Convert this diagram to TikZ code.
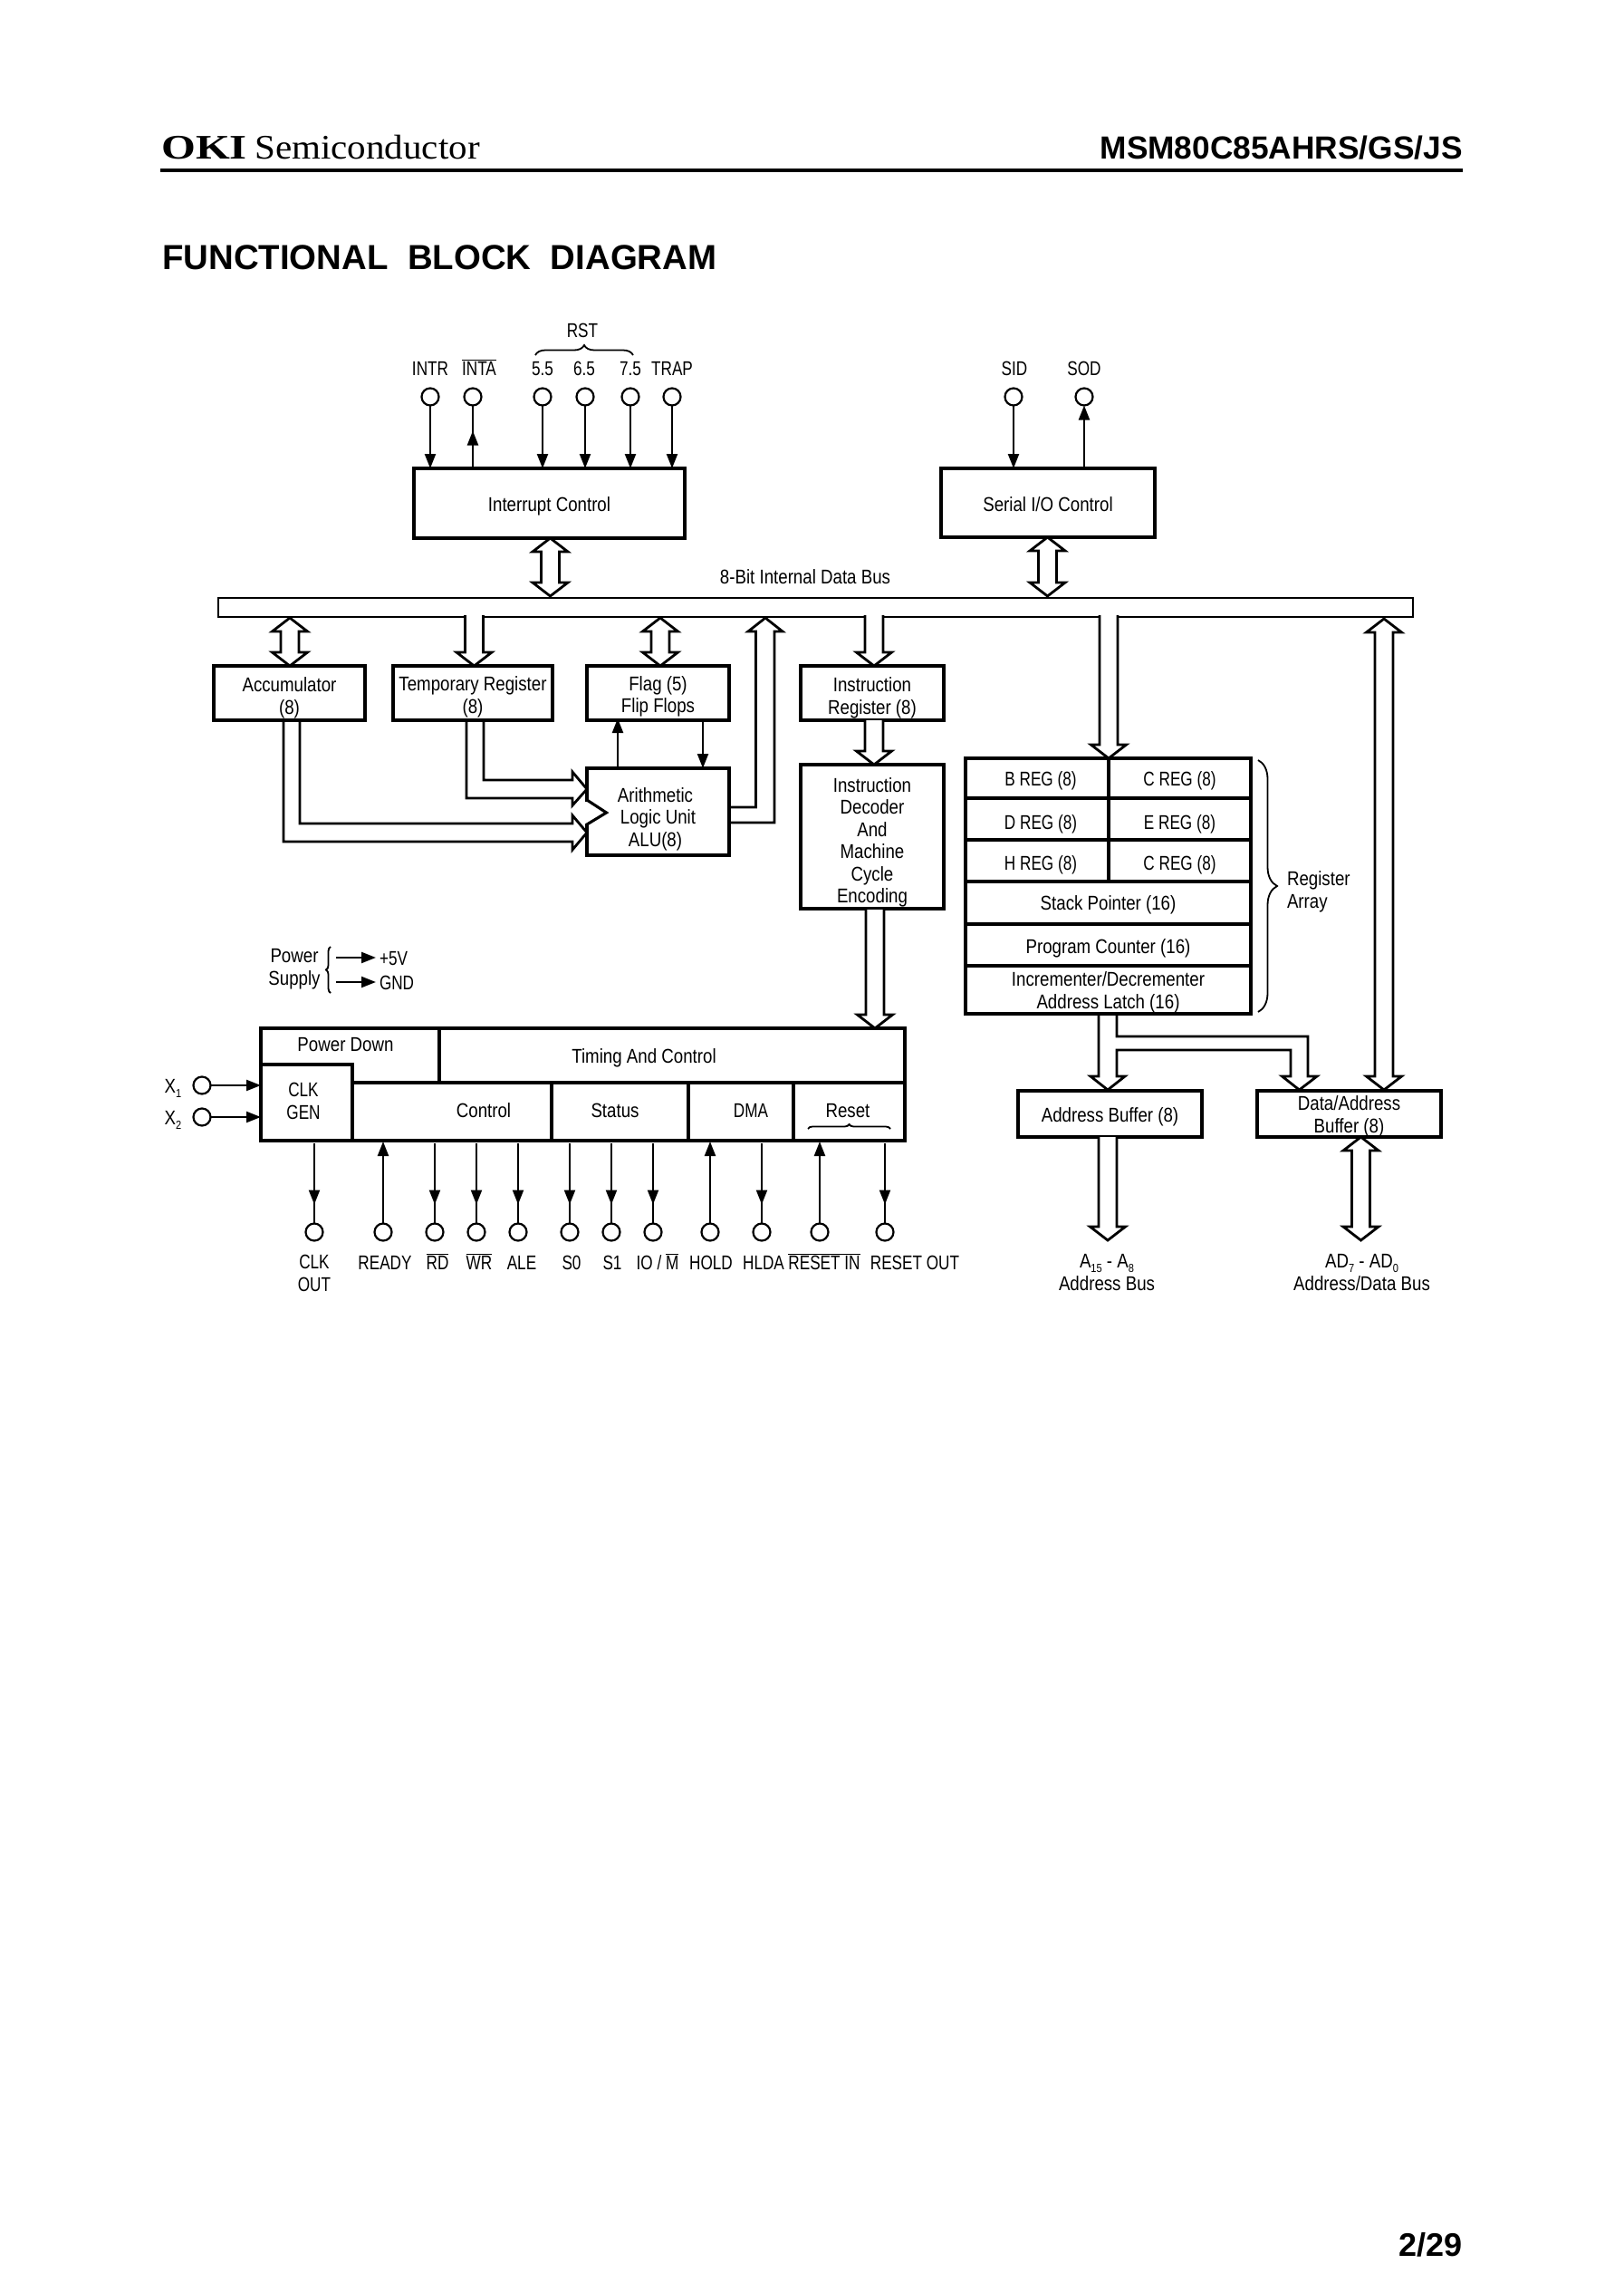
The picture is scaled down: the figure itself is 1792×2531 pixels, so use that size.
\documentclass[tikz,border=0pt]{standalone}
\usepackage{fontspec}
\usetikzlibrary{arrows.meta,calc,decorations.markings,decorations.pathreplacing}

\newfontfamily\chipfont[FakeStretch=0.85]{Liberation Sans}
\newfontfamily\capsfont[FakeStretch=0.78]{Liberation Sans}
\newfontfamily\headfont{Liberation Sans}
\newfontfamily\okifont[FakeStretch=1.28]{Liberation Serif}
\newfontfamily\semifont[FakeStretch=1.08]{Liberation Serif}

\tikzstyle{txt} = [font=\chipfont\fontsize{22}{24.4}\selectfont, inner sep=0pt, outer sep=0pt,
                   text height=16pt, text depth=0pt]
\tikzstyle{narrow} = [font=\capsfont\fontsize{22}{24.4}\selectfont]
\tikzstyle{ctxt} = [txt, narrow]
\tikzstyle{two} = [txt, align=center, text height=40pt]
\tikzstyle{block} = [txt, draw, rectangle, line width=3.1pt, fill=white]
\tikzstyle{term} = [draw, circle, line width=2.2pt, minimum size=19pt, inner sep=0pt, outer sep=0pt]
\tikzstyle{wire} = [line width=2.2pt]
\tikzstyle{sig} = [wire, -{Triangle[length=16pt,width=12pt]}]
\tikzstyle{wide} = [line width=2.8pt, line join=miter]
\tikzstyle{curly} = [line width=1.8pt, decorate]
\tikzset{tipnear/.style={postaction={decorate},
    decoration={markings,mark=at position #1 with {\arrow{Triangle[length=16pt,width=12pt]}}}}}

\def\subs#1{\raisebox{-5pt}{\fontsize{13}{13}\selectfont #1}}
\def\ovl#1{$\overline{\mbox{#1}}$}

% wide bus arrow, open at the top: shaft start, tip
\newcommand{\wideDown}[2]{
  \draw[wide,fill=white]
       ($(#1)+(-10,0)$) -- ($(#2)+(-10,-15)$) -- ++(-9.5,0) -- (#2)
       -- ++(19.5,-15) -- ++(-9.5,0) -- ($(#1)+(10,0)$);
}
% wide bus arrow with two heads: upper tip, lower tip
\newcommand{\wideBoth}[2]{
  \draw[wide,fill=white]
       (#1) -- ++(19.5,15) -- ++(-9.5,0) -- ($(#2)+(10,-15)$) -- ++(9.5,0) -- (#2)
       -- ++(-19.5,-15) -- ++(9.5,0) -- ($(#1)+(-10,15)$) -- ++(-9.5,0) -- cycle;
}

\begin{document}
\begin{tikzpicture}[x=1pt,y=-1pt]

\useasboundingbox (0,0) rectangle (1792,2531);

% page header
\node[inner sep=0pt,anchor=base west,font=\okifont\bfseries\fontsize{38}{38}\selectfont]
     at (178,176) (oki) {OKI};
\node[inner sep=0pt,anchor=base west,font=\semifont\fontsize{38}{38}\selectfont]
     at (281,176) (semi) {Semiconductor};
\node[inner sep=0pt,anchor=base east,font=\headfont\bfseries\fontsize{35.3}{36}\selectfont]
     at (1615,176) (part) {MSM80C85AHRS/GS/JS};
\coordinate (ruleL) at (177,188);
\coordinate (ruleR) at (1615,188);
\draw[line width=3.2pt] (ruleL) -- (ruleR);
\node[inner sep=0pt,anchor=base west,font=\headfont\bfseries\fontsize{38.4}{38}\selectfont]
     at (179,297) (title) {FUNCTIONAL\ \ BLOCK\ \ DIAGRAM};
\node[inner sep=0pt,anchor=base east,font=\headfont\bfseries\fontsize{36}{36}\selectfont]
     at (1615,2490) (page) {2/29};

% top blocks
\node[block,minimum width=299pt,minimum height=77pt,text height=17pt]
     at (606.5,555.5)
     (IC) {Interrupt Control};
\node[block,minimum width=236pt,minimum height=76pt,text height=18pt]
     at (1157,555)
     (SIO) {Serial I/O Control};

% interrupt pins
\node[term] at (475,438) (INTR) {};
\node[term,right of=INTR,node distance=47pt] (INTA) {};
\node[term,right of=INTA,node distance=77pt] (RSTa) {};
\node[term,right of=RSTa,node distance=47pt] (RSTb) {};
\node[term,right of=RSTb,node distance=50pt] (RSTc) {};
\node[term,right of=RSTc,node distance=46pt] (TRAP) {};
\node[term] at (1119,438) (SID) {};
\node[term,right of=SID,node distance=78pt] (SOD) {};

\node[ctxt,above of=INTR,node distance=32pt] (lINTR) {INTR};
\node[ctxt,above of=INTA,node distance=32pt,xshift=7pt] (lINTA) {\ovl{INTA}};
\node[ctxt,above of=RSTa,node distance=32pt] (lRSTa) {5.5};
\node[ctxt,above of=RSTb,node distance=32pt,xshift=-1pt] (lRSTb) {6.5};
\node[ctxt,above of=RSTc,node distance=32pt] (lRSTc) {7.5};
\node[ctxt,above of=TRAP,node distance=32pt] (lTRAP) {TRAP};
\node[ctxt,above of=SID,node distance=32pt,xshift=1pt] (lSID) {SID};
\node[ctxt,above of=SOD,node distance=32pt] (lSOD) {SOD};
\node[ctxt] at (643,364) (lRST) {RST};

\coordinate (rstL) at (591,392);
\coordinate (rstR) at (699,392);
\draw[curly,decoration={brace,amplitude=11pt}] (rstL) -- (rstR);

\draw[sig] (INTR.south) -- (IC.north -| INTR);
\draw[wire,tipnear=-28pt] (IC.north -| INTA) -- (INTA.south);
\draw[sig] (RSTa.south) -- (IC.north -| RSTa);
\draw[sig] (RSTb.south) -- (IC.north -| RSTb);
\draw[sig] (RSTc.south) -- (IC.north -| RSTc);
\draw[sig] (TRAP.south) -- (IC.north -| TRAP);
\draw[sig] (SID.south) -- (SIO.north -| SID);
\draw[sig] (SIO.north -| SOD) -- (SOD.south);

% internal data bus
\node[draw,rectangle,line width=2.8pt,outer sep=0pt,minimum width=1319pt,minimum height=21pt]
     at (900.5,670.5)
     (bus) {};
\node[txt] at (889,636) (lbus) {8-Bit Internal Data Bus};

\coordinate (ICbus) at (607.5,658);
\coordinate (SIObus) at (1156.5,658);
\wideBoth{IC.south -| ICbus}{ICbus}
\wideBoth{SIO.south -| SIObus}{SIObus}

% registers below the bus
\node[block,minimum width=167pt,minimum height=60pt,two,text height=46pt]
     at (319.5,765)
     (ACC) {Accumulator\\(8)};
\node[block,minimum width=176pt,minimum height=60pt,two,text height=44pt]
     at (522,765)
     (TR) {Temporary Register\\(8)};
\node[block,minimum width=157pt,minimum height=60pt,two,text height=43pt]
     at (726.5,765)
     (FLAG) {Flag (5)\\Flip Flops};
\node[block,minimum width=157pt,minimum height=96pt,two,text height=76pt]
     at (726.5,896)
     (ALU) {Arithmetic\hspace*{6pt}\\Logic Unit\hspace*{6pt}\\ALU(8)\hspace*{6pt}};
\node[block,minimum width=158pt,minimum height=60pt,two,text height=46pt]
     at (963,765)
     (IR) {Instruction\\Register (8)};
\node[block,minimum width=158pt,minimum height=159pt,two,text height=146pt]
     at (963,923.5)
     (DEC) {Instruction\\Decoder\\And\\Machine\\Cycle\\Encoding};

% notch in the ALU
\draw[white,line width=3.9pt] ($(ALU.west)+(0,-11.5)$) -- ($(ALU.west)+(0,12.5)$);
\draw[line width=3.1pt] ($(ALU.west)+(0,-13)$) -- ($(ALU.west)+(21.5,1)$) -- ($(ALU.west)+(0,14)$);

\coordinate (ACCtop) at (320,682);
\coordinate (FLAGtop) at (729,682);
\wideBoth{ACCtop}{ACC.north -| ACCtop}
\wideBoth{FLAGtop}{FLAG.north -| FLAGtop}

\coordinate (TRtop) at (523.5,679);
\coordinate (IRtop) at (965,679);
\coordinate (RAtop) at (1224,679);
\coordinate (DECtop) at (965,795);
\coordinate (DECout) at (966,1004);
\wideDown{TRtop}{TR.north -| TRtop}
\wideDown{IRtop}{IR.north -| IRtop}
\wideDown{DECtop}{DEC.north -| DECtop}

\coordinate (flagUp) at (682,793);
\coordinate (flagDn) at (776,795);
\draw[sig] (ALU.north -| flagUp) -- (flagUp);
\draw[sig] (flagDn) -- (ALU.north -| flagDn);

% wide arrows into the ALU
\coordinate (aluA) at (648,871);
\coordinate (aluB) at (648,919);
\draw[wide]
     ($(TR.south)+(-7,0)$) |- ($(aluA)+(-16,10)$) -- ++(0,8) -- (aluA)
      -- ++(-16,-19) -- ++(0,9) -| ($(TR.south)+(12,0)$);
\draw[wide]
     ($(ACC.south)+(-6.5,0)$) |- ($(aluB)+(-16,10)$) -- ++(0,9) -- (aluB)
      -- ++(-16,-19) -- ++(0,9) -| ($(ACC.south)+(11.5,0)$);

% ALU result back to the bus
\coordinate (aluTip) at (845,682);
\draw[wide]
     ($(ALU.east)+(0,12)$) -| ($(aluTip)+(10,15)$) -- ++(9,0) -- (aluTip)
      -- ++(-19,15) -- ++(8.5,0) |- ($(ALU.east)+(0,-5)$);

% register array
\node[block,narrow,minimum width=158pt,minimum height=44pt]
     at (1145,859)
     (BREG) {\hspace*{8pt}B REG (8)};
\node[block,narrow,minimum width=157pt,minimum height=44pt]
     at (1302.5,859)
     (CREG) {C REG (8)};
\node[block,narrow,minimum width=158pt,minimum height=46pt,text height=22pt]
     at (1145,904)
     (DREG) {\hspace*{8pt}D REG (8)};
\node[block,narrow,minimum width=157pt,minimum height=46pt,text height=22pt]
     at (1302.5,904)
     (EREG) {E REG (8)};
\node[block,narrow,minimum width=158pt,minimum height=46pt,text height=20pt]
     at (1145,950)
     (HREG) {\hspace*{8pt}H REG (8)};
\node[block,narrow,minimum width=157pt,minimum height=46pt,text height=20pt]
     at (1302.5,950)
     (LREG) {C REG (8)};
\node[block,minimum width=315pt,minimum height=47pt,text height=16pt]
     at (1223.5,996.5)
     (SP) {Stack Pointer (16)};
\node[block,minimum width=315pt,minimum height=46pt,text height=18pt]
     at (1223.5,1043)
     (PC) {Program Counter (16)};
\node[block,minimum width=315pt,minimum height=53pt,two,text height=41pt]
     at (1223.5,1092.5)
     (LATCH) {Incrementer/Decrementer\\Address Latch (16)};

\wideDown{RAtop}{BREG.north east}

\coordinate (arrT) at (1389,839);
\coordinate (arrB) at (1389,1117);
\draw[curly,decoration={brace,amplitude=21pt}] (arrT) -- (arrB);
\node[two,align=left,anchor=west] at (1421,982) (lARR) {Register\\Array};

% output buffers
\node[block,minimum width=203pt,minimum height=51pt,text height=18pt]
     at (1225.5,1229.5)
     (AB) {Address Buffer (8)};
\node[block,minimum width=203pt,minimum height=51pt,two,text height=41pt]
     at (1489.5,1229.5)
     (DB) {Data/Address\\Buffer (8)};

\coordinate (RAout) at (1223,1119);
\coordinate (ABtip) at (1223,1203);
\coordinate (DBtip) at (1434.5,1203);
\draw[wide]
     ($(RAout)+(-10,0)$) -- ($(ABtip)+(-10,-15)$) -- ++(-9,0) -- (ABtip)
      -- ++(19,-15) -- ++(-9,0) |- ($(DBtip)+(-9.5,-44)$) -- ++(0,29) -- ++(-9.5,0)
      -- (DBtip) -- ++(19.5,-15) -- ++(-10,0) |- ($(RAout)+(10,25)$) -- ($(RAout)+(10,0)$);

\coordinate (DBtop) at (1528,683);
\coordinate (DBbot) at (1528,1203);
\wideBoth{DBtop}{DBbot}

\coordinate (ABout) at (1223,1255);
\coordinate (ABend) at (1223,1369);
\wideDown{ABout}{ABend}
\coordinate (DBout) at (1502.5,1255);
\coordinate (DBend) at (1502.5,1369);
\wideBoth{DBout}{DBend}

\node[two] at (1222,1404) (lAB) {A\subs{15} - A\subs{8}\\Address Bus};
\node[two] at (1503.5,1404) (lDB) {AD\subs{7} - AD\subs{0}\\Address/Data Bus};

% power supply
\node[two] at (325,1067) (lPWR) {Power\\Supply};
\node[ctxt,anchor=west] at (419,1057) (lVCC) {+5V};
\node[ctxt,anchor=west] at (419,1084) (lGND) {GND};
\coordinate (pwrA) at (371,1057);
\coordinate (pwrB) at (371,1084);
\coordinate (pwrT) at (365,1045);
\coordinate (pwrD) at (365,1096);
\draw[curly,decoration={brace,amplitude=5pt}] (pwrD) -- (pwrT);
\draw[sig,shorten >=4pt] (pwrA) -- (lVCC.west);
\draw[sig,shorten >=4pt] (pwrB) -- (lGND.west);

% timing and control block
\node[block,minimum width=197pt,minimum height=60pt,text height=0pt,text depth=9pt]
     at (386.5,1165)
     (PD) {Power Down\hspace*{10pt}};
\node[block,minimum width=514pt,minimum height=60pt,text height=17pt]
     at (742,1165)
     (TC) {Timing And Control\hspace*{62pt}};
\node[block,two,narrow,minimum width=101pt,minimum height=84pt,text height=36pt]
     at (338.5,1217)
     (CK) {CLK\hspace*{7pt}\\GEN\hspace*{7pt}};
\node[block,minimum width=220pt,minimum height=64pt,text height=13pt]
     at (499,1227)
     (CTRL) {\hspace*{70pt}Control};
\node[block,minimum width=151pt,minimum height=64pt,text height=13pt]
     at (684.5,1227)
     (STAT) {Status\hspace*{11pt}};
\node[block,narrow,minimum width=116pt,minimum height=64pt,text height=13pt]
     at (818,1227)
     (DMA) {\hspace*{22pt}DMA};
\node[block,minimum width=123pt,minimum height=64pt,text height=13pt]
     at (937.5,1227)
     (RES) {Reset\hspace*{3pt}};

\coordinate (resL) at (892,1246);
\coordinate (resR) at (983,1246);
\draw[curly,decoration={brace,amplitude=5pt}] (resL) -- (resR);

\wideDown{DECout}{TC.north -| DECout}

% clock inputs
\node[term] at (223,1198) (Xa) {};
\node[term] at (223,1233) (Xb) {};
\node[txt,left of=Xa,node distance=32pt] (lXa) {X\subs{1}};
\node[txt,left of=Xb,node distance=32pt] (lXb) {X\subs{2}};
\draw[sig] (Xa.east) -- (CK.west |- Xa);
\draw[sig] (Xb.east) -- (CK.west |- Xb);

% bottom pins
\node[term] at (347,1360) (CLKO) {};
\node[term,right of=CLKO,node distance=76pt] (READY) {};
\node[term,right of=READY,node distance=57pt] (RD) {};
\node[term,right of=RD,node distance=46pt] (WR) {};
\node[term,right of=WR,node distance=46pt] (ALE) {};
\node[term,right of=ALE,node distance=57pt] (Sa) {};
\node[term,right of=Sa,node distance=46pt] (Sb) {};
\node[term,right of=Sb,node distance=46pt] (IOM) {};
\node[term,right of=IOM,node distance=63pt] (HOLD) {};
\node[term,right of=HOLD,node distance=57pt] (HLDA) {};
\node[term,right of=HLDA,node distance=64pt] (RSTI) {};
\node[term,right of=RSTI,node distance=72pt] (RSTO) {};

\node[two,narrow,below of=CLKO,node distance=45pt] (lCLKO) {CLK\\OUT};
\node[ctxt,below of=READY,node distance=33pt,xshift=2pt] (lREADY) {READY};
\node[ctxt,below of=RD,node distance=33pt,xshift=3pt] (lRD) {\ovl{RD}};
\node[ctxt,below of=WR,node distance=33pt,xshift=3pt] (lWR) {\ovl{WR}};
\node[ctxt,below of=ALE,node distance=33pt,xshift=4pt] (lALE) {ALE};
\node[ctxt,below of=Sa,node distance=33pt,xshift=2pt] (lSa) {S0};
\node[ctxt,below of=Sb,node distance=33pt,xshift=1pt] (lSb) {S1};
\node[ctxt,below of=IOM,node distance=33pt,xshift=5pt] (lIOM) {IO / \ovl{M}};
\node[ctxt,below of=HOLD,node distance=33pt,xshift=1pt] (lHOLD) {HOLD};
\node[ctxt,below of=HLDA,node distance=33pt,xshift=2pt] (lHLDA) {HLDA};
\node[ctxt,below of=RSTI,node distance=33pt,xshift=5pt] (lRSTI) {\ovl{RESET IN}};
\node[ctxt,below of=RSTO,node distance=33pt,xshift=33pt] (lRSTO) {RESET OUT};

\draw[wire,tipnear=-21pt,shorten <=3pt] (CK.south -| CLKO) -- (CLKO.north);
\draw[sig,shorten >=1pt] (READY.north) -- (CTRL.south -| READY);
\draw[wire,tipnear=-21pt,shorten <=3pt] (CTRL.south -| RD) -- (RD.north);
\draw[wire,tipnear=-21pt,shorten <=3pt] (CTRL.south -| WR) -- (WR.north);
\draw[wire,tipnear=-21pt,shorten <=3pt] (CTRL.south -| ALE) -- (ALE.north);
\draw[wire,tipnear=-21pt,shorten <=3pt] (STAT.south -| Sa) -- (Sa.north);
\draw[wire,tipnear=-21pt,shorten <=3pt] (STAT.south -| Sb) -- (Sb.north);
\draw[wire,tipnear=-21pt,shorten <=3pt] (STAT.south -| IOM) -- (IOM.north);
\draw[sig,shorten >=1pt] (HOLD.north) -- (DMA.south -| HOLD);
\draw[wire,tipnear=-21pt,shorten <=3pt] (DMA.south -| HLDA) -- (HLDA.north);
\draw[sig,shorten >=1pt] (RSTI.north) -- (RES.south -| RSTI);
\draw[wire,tipnear=-21pt,shorten <=3pt] (RES.south -| RSTO) -- (RSTO.north);

\end{tikzpicture}
\end{document}
